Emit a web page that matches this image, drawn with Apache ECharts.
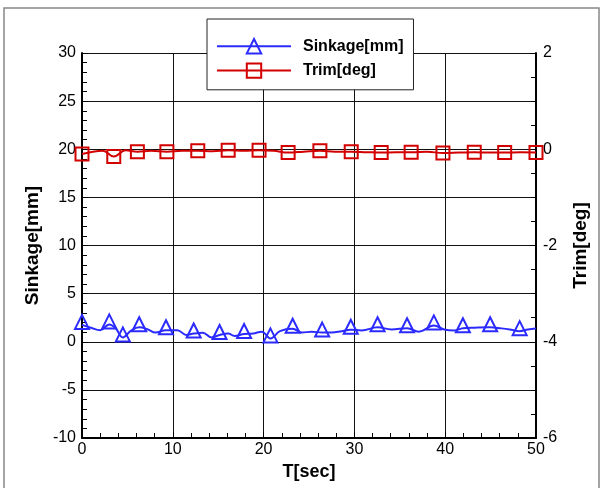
<!DOCTYPE html>
<html>
<head>
<meta charset="utf-8">
<script src="https://cdn.jsdelivr.net/npm/echarts@6/dist/echarts.min.js"></script>
<style>
  html, body { margin: 0; padding: 0; background: #fff; }
  #chart { width: 604px; height: 488px; }
</style>
</head>
<body>
<div id="chart"></div>
<script>
// Sinkage time history [sec] / [mm]
var sinkTime = [0, 1.0, 2.0, 3.0, 3.7, 4.5, 5.4, 6.3, 7.2, 8.1, 9.25, 10.5, 11.5, 12.3, 13.3, 14.25,
  15.15, 16.1, 16.8, 17.85, 18.85, 19.8, 20.75, 21.8, 23.2, 24.2, 25.3, 26.45, 27.5, 28.6, 29.6,
  30.8, 32.55, 34.1, 35.8, 37.1, 38.75, 39.9, 41.0, 41.95, 43.25, 44.95, 46.2, 47.1, 48.2, 49.1, 50];
var sinkValue = [1.75, 1.45, 1.2, 1.8, 1.4, 0.45, 1.15, 1.5, 1.3, 0.95, 1.2, 1.2, 0.7, 0.85, 0.94, 0.45,
  0.7, 0.85, 0.6, 0.8, 0.85, 1.05, 0.35, 1.1, 1.35, 0.95, 1.05, 0.95, 0.95, 1.1, 1.25,
  1.18, 1.5, 1.28, 1.4, 1.05, 1.7, 1.28, 1.18, 1.4, 1.46, 1.5, 1.39, 1.28, 1.1, 1.28, 1.38];
// samples that carry a symbol
var sinkMarkers = [0, 3, 5, 7, 10, 13, 16, 19, 22, 24, 27, 30, 32, 34, 36, 39, 41, 44];

// Trim time history [sec] / [deg]
var trimTime = [0, 1.2, 2.3, 3.5, 4.8, 6.1, 7.6, 9.35, 11.0, 12.75, 14.4, 16.1, 17.8, 19.5, 21.1, 22.7,
  24.4, 26.2, 27.9, 29.65, 31.3, 32.95, 34.6, 36.25, 38.0, 39.75, 41.5, 43.2, 44.9, 46.55, 48.3, 50];
var trimValue = [-0.1, -0.05, -0.03, -0.15, -0.02, -0.05, -0.03, -0.05, -0.03, -0.03, -0.04, -0.02, -0.03, -0.02, -0.03, -0.07,
  -0.05, -0.03, -0.05, -0.05, -0.06, -0.07, -0.06, -0.06, -0.05, -0.08, -0.07, -0.06, -0.07, -0.07, -0.06, -0.07];
var trimMarkers = [0, 3, 5, 7, 9, 11, 13, 15, 17, 19, 21, 23, 25, 27, 29, 31];

var FONT = "'Liberation Sans', Arial, sans-serif";
var BLUE = '#2b2bff';
var RED = '#d20000';

function buildData(times, values, markers, symbol) {
  return times.map(function (t, i) {
    return {
      value: [t, values[i]],
      symbol: markers.indexOf(i) >= 0 ? symbol : 'none'
    };
  });
}

var chart = echarts.init(document.getElementById('chart'), null, { renderer: 'canvas' });

chart.setOption({
  animation: false,
  backgroundColor: '#fff',
  graphic: [{
    type: 'rect',
    shape: { x: 4, y: 8, width: 595, height: 490 },
    style: { fill: 'none', stroke: '#888', lineWidth: 1.5 },
    silent: true,
    z: -1
  }],
  grid: { left: 82, right: 68, top: 53, bottom: 50 },
  legend: {
    orient: 'vertical',
    left: 207,
    top: 19,
    backgroundColor: '#fff',
    borderColor: '#222',
    borderWidth: 1,
    borderRadius: 0,
    padding: [19, 10, 11, 9],
    itemWidth: 74,
    itemHeight: 18,
    itemGap: 8,
    textStyle: { fontFamily: FONT, fontWeight: 'bold', fontSize: 16, color: '#000', padding: [0, 0, 0, 7] },
    data: ['Sinkage[mm]', 'Trim[deg]'],
    z: 10
  },
  xAxis: {
    type: 'value',
    min: 0, max: 50, interval: 10,
    name: 'T[sec]',
    nameLocation: 'middle',
    nameGap: 22,
    nameTextStyle: { fontFamily: FONT, fontWeight: 'bold', fontSize: 18, color: '#000' },
    axisLine: { show: true, onZero: false, lineStyle: { color: '#000', width: 2 } },
    axisTick: { show: true, inside: true, length: 6, lineStyle: { color: '#000', width: 1 } },
    minorTick: { show: true, splitNumber: 5, length: 5, lineStyle: { color: '#000', width: 1 } },
    axisLabel: { fontFamily: FONT, fontSize: 16, color: '#000', margin: 4 },
    splitLine: { show: true, lineStyle: { color: '#111', width: 1 } }
  },
  yAxis: [{
    type: 'value',
    position: 'left',
    min: -10, max: 30, interval: 5,
    name: 'Sinkage[mm]',
    nameLocation: 'middle',
    nameRotate: 90,
    nameGap: 38,
    nameTextStyle: { fontFamily: FONT, fontWeight: 'bold', fontSize: 19, color: '#000' },
    axisLine: { show: true, onZero: false, lineStyle: { color: '#000', width: 2 } },
    axisTick: { show: true, inside: true, length: 6, lineStyle: { color: '#000', width: 1 } },
    minorTick: { show: true, splitNumber: 5, length: 5, lineStyle: { color: '#000', width: 1 } },
    axisLabel: { fontFamily: FONT, fontSize: 16, color: '#000', margin: 6 },
    splitLine: { show: true, lineStyle: { color: '#111', width: 1 } }
  }, {
    type: 'value',
    position: 'right',
    min: -6, max: 2, interval: 2,
    name: 'Trim[deg]',
    nameLocation: 'middle',
    nameRotate: 90,
    nameGap: 35,
    nameTextStyle: { fontFamily: FONT, fontWeight: 'bold', fontSize: 19, color: '#000' },
    axisLine: { show: true, onZero: false, lineStyle: { color: '#000', width: 2 } },
    axisTick: { show: true, inside: true, length: 6, lineStyle: { color: '#000', width: 1 } },
    minorTick: { show: true, splitNumber: 4, length: 5, lineStyle: { color: '#000', width: 1 } },
    axisLabel: { fontFamily: FONT, fontSize: 16, color: '#000', margin: 7 },
    splitLine: { show: false }
  }],
  series: [{
    name: 'Sinkage[mm]',
    type: 'line',
    yAxisIndex: 0,
    smooth: 0.4,
    showSymbol: true,
    showAllSymbol: true,
    symbol: 'triangle',
    symbolSize: 14,
    symbolOffset: [0, -3],
    lineStyle: { color: BLUE, width: 2 },
    itemStyle: { color: 'rgba(255,255,255,0)', borderColor: BLUE, borderWidth: 2 },
    data: buildData(sinkTime, sinkValue, sinkMarkers, 'triangle'),
    z: 3
  }, {
    name: 'Trim[deg]',
    type: 'line',
    yAxisIndex: 1,
    smooth: 0.4,
    showSymbol: true,
    showAllSymbol: true,
    symbol: 'rect',
    symbolSize: 13,
    lineStyle: { color: RED, width: 2 },
    itemStyle: { color: 'rgba(255,255,255,0)', borderColor: RED, borderWidth: 2 },
    data: buildData(trimTime, trimValue, trimMarkers, 'rect'),
    z: 3
  }]
});
</script>
</body>
</html>
